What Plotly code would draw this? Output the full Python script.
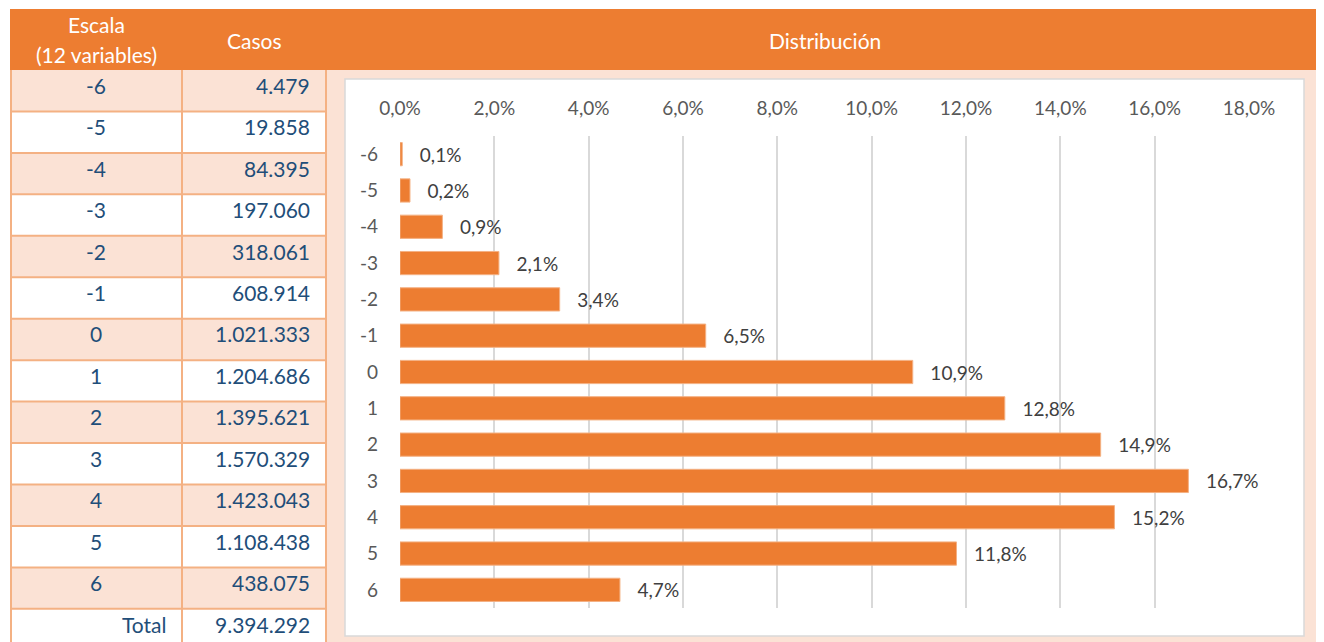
import plotly.graph_objects as go

# ---------------- data ----------------
escala = ["-6", "-5", "-4", "-3", "-2", "-1", "0", "1", "2", "3", "4", "5", "6"]
casos = [4479, 19858, 84395, 197060, 318061, 608914, 1021333, 1204686,
         1395621, 1570329, 1423043, 1108438, 438075]
total_label = "Total"
total_casos = 9394292
pct_labels = ["0,1%", "0,2%", "0,9%", "2,1%", "3,4%", "6,5%", "10,9%", "12,8%",
              "14,9%", "16,7%", "15,2%", "11,8%", "4,7%"]
x_ticks = [0, 2, 4, 6, 8, 10, 12, 14, 16, 18]
x_tick_labels = ["0,0%", "2,0%", "4,0%", "6,0%", "8,0%", "10,0%", "12,0%",
                 "14,0%", "16,0%", "18,0%"]
header_escala = ["Escala", "(12 variables)"]
header_casos = "Casos"
header_chart = "Distribución"

# ---------------- style / layout constants ----------------
W, H = 1324, 642
OFF = 8  # page body margin of the generated html
FONT = "Lato"
ORANGE = "#ED7D31"
PEACH = "#FBE2D5"
BORDER = "#F4B183"
TXT_BLUE = "#1F4E79"
GRID = "#D9D9D9"

TBL_X0, TBL_X1, TBL_X2 = 10, 182, 326
HDR_Y0, HDR_Y1 = 9, 70
ROW_H = 41.45
TXT_LIFT = 5.5
TBL_FS = 21
HDR_FS = 21
CH_FS = 19


def px(x):
    return (x - OFF) / W


def py(y):
    return 1 - (y - OFF) / H


def fmt_int(v):
    return f"{v:,}".replace(",", ".")


pct_values = [c / total_casos * 100 for c in casos]

fig = go.Figure()

fig.add_trace(go.Bar(
    x=pct_values,
    y=escala,
    orientation="h",
    marker=dict(color=ORANGE, line=dict(color="#F4B183", width=1)),
    text=["   " + t for t in pct_labels],
    textposition="outside",
    textfont=dict(family=FONT, size=CH_FS, color="#404040"),
    cliponaxis=False,
    width=0.64,
    hoverinfo="skip",
))

shapes = []
annotations = []


def note(x, y, text, xanchor="center", size=TBL_FS, color=TXT_BLUE):
    annotations.append(dict(x=px(x), y=py(y), xref="paper", yref="paper",
                            text=text, showarrow=False, xanchor=xanchor,
                            yanchor="middle", align="center",
                            font=dict(family=FONT, size=size, color=color)))


# page header band
shapes.append(dict(type="rect", xref="paper", yref="paper", layer="below",
                   x0=px(TBL_X0), x1=px(W + 20), y0=py(HDR_Y1), y1=py(HDR_Y0),
                   fillcolor=ORANGE, line=dict(width=0)))
# chart panel background
shapes.append(dict(type="rect", xref="paper", yref="paper", layer="below",
                   x0=px(TBL_X2), x1=px(W + 20), y0=py(H + 20), y1=py(HDR_Y1),
                   fillcolor=PEACH, line=dict(width=0)))
shapes.append(dict(type="rect", xref="paper", yref="paper", layer="below",
                   x0=px(345), x1=px(1304), y0=py(636), y1=py(79),
                   fillcolor="white", line=dict(color=GRID, width=1.5)))

# table rows
rows = list(zip(escala, [fmt_int(c) for c in casos])) + [(total_label, fmt_int(total_casos))]
for i, (lab, val) in enumerate(rows):
    y0 = HDR_Y1 + ROW_H * i
    y1 = y0 + ROW_H
    fill = PEACH if i % 2 == 0 else "white"
    shapes.append(dict(type="rect", xref="paper", yref="paper", layer="below",
                       x0=px(TBL_X0), x1=px(TBL_X2), y0=py(y1), y1=py(y0),
                       fillcolor=fill, line=dict(width=0)))
    yc = (y0 + y1) / 2 - TXT_LIFT
    if lab == total_label:
        note(168, yc, lab, xanchor="right")
    else:
        note((TBL_X0 + TBL_X1) / 2, yc, lab)
    note(312, yc, val, xanchor="right")

# table grid lines
n_rows = len(rows)
for k in range(1, n_rows + 1):
    y = HDR_Y1 + ROW_H * k
    shapes.append(dict(type="line", xref="paper", yref="paper",
                       x0=px(TBL_X0), x1=px(TBL_X2), y0=py(y), y1=py(y),
                       line=dict(color=BORDER, width=2)))
for xv in (TBL_X0 + 1, TBL_X1, TBL_X2):
    shapes.append(dict(type="line", xref="paper", yref="paper",
                       x0=px(xv), x1=px(xv), y0=py(HDR_Y1), y1=py(H + 20),
                       line=dict(color=BORDER, width=2)))

# header texts
note((TBL_X0 + TBL_X1) / 2, 25, header_escala[0], size=HDR_FS, color="white")
note((TBL_X0 + TBL_X1) / 2, 55, header_escala[1], size=HDR_FS, color="white")
note((TBL_X1 + TBL_X2) / 2, 41, header_casos, size=HDR_FS, color="white")
note((TBL_X2 + W) / 2, 41, header_chart, size=HDR_FS, color="white")

fig.update_layout(
    width=W, height=H,
    margin=dict(l=0, r=0, t=0, b=0, pad=0),
    paper_bgcolor="white",
    plot_bgcolor="rgba(0,0,0,0)",
    separators=",.",
    showlegend=False,
    shapes=shapes,
    annotations=annotations,
    xaxis=dict(
        domain=[px(400), px(1249)],
        range=[0, 18.001],
        side="top",
        tickmode="array",
        tickvals=x_ticks,
        ticktext=x_tick_labels,
        showgrid=True, gridcolor=GRID, gridwidth=1.5,
        zeroline=False, showline=False,
        ticks="",
        automargin=False,
        ticklabelstandoff=16,
        tickfont=dict(family=FONT, size=CH_FS, color="#595959"),
        fixedrange=True,
    ),
    yaxis=dict(
        domain=[py(608), py(136)],
        autorange="reversed",
        type="category",
        showgrid=False, zeroline=False, showline=False,
        ticks="",
        automargin=False,
        ticklabelstandoff=21,
        tickfont=dict(family=FONT, size=CH_FS, color="#595959"),
        fixedrange=True,
    ),
)

fig.write_html("out.html")
